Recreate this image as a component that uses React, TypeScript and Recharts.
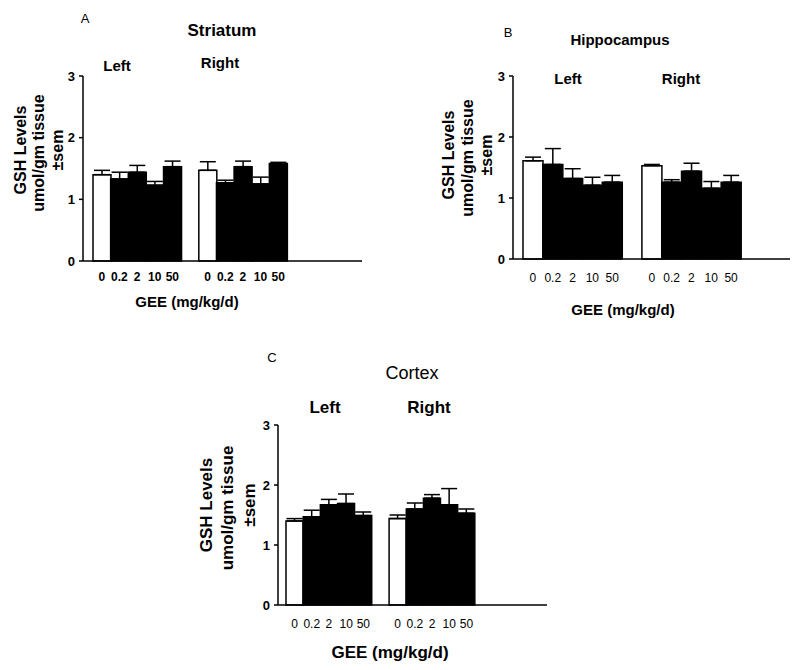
import React from 'react';
import { BarChart, Bar, XAxis, YAxis, Cell, ErrorBar } from 'recharts';

const FONT = '"Liberation Sans", Arial, sans-serif';

// GEE doses (mg/kg/d), same for each hemisphere
const doses = ['0', '0.2', '2', '10', '50'];

// GSH levels (umol/gm tissue) and sem
const striatumLeft = [1.40, 1.33, 1.44, 1.23, 1.53];
const striatumLeftSem = [0.07, 0.11, 0.11, 0.06, 0.09];
const striatumRight = [1.47, 1.27, 1.53, 1.25, 1.58];
const striatumRightSem = [0.14, 0.04, 0.09, 0.11, 0.02];

const hippoLeft = [1.61, 1.55, 1.32, 1.21, 1.26];
const hippoLeftSem = [0.06, 0.26, 0.16, 0.13, 0.11];
const hippoRight = [1.53, 1.26, 1.44, 1.16, 1.26];
const hippoRightSem = [0.02, 0.04, 0.13, 0.11, 0.11];

const cortexLeft = [1.40, 1.47, 1.67, 1.69, 1.49];
const cortexLeftSem = [0.04, 0.11, 0.09, 0.16, 0.06];
const cortexRight = [1.44, 1.60, 1.78, 1.67, 1.53];
const cortexRightSem = [0.06, 0.10, 0.06, 0.27, 0.07];

const yTicks = [0, 1, 2, 3];

type Row = { key: string; dose: string; value: number | null; err?: number[] };

// left group, an empty slot, then right group
const buildRows = (left: number[], leftSem: number[], right: number[], rightSem: number[]): Row[] => [
  ...doses.map((d, i) => ({ key: `L|${d}`, dose: d, value: left[i], err: [0, leftSem[i]] })),
  { key: 'gap|', dose: '', value: null },
  ...doses.map((d, i) => ({ key: `R|${d}`, dose: d, value: right[i], err: [0, rightSem[i]] })),
];

interface PanelProps {
  left: number;
  top: number;
  width: number;
  height: number;
  margin: { top: number; right: number; bottom: number; left: number };
  yAxisWidth: number;
  padding: { left: number; right: number };
  tickMargin: number;
  tickBold: boolean;
  data: Row[];
}

const Panel = ({ left, top, width, height, margin, yAxisWidth, padding, tickMargin, tickBold, data }: PanelProps) => (
  <div style={{ position: 'absolute', left, top, width, height }}>
    <BarChart width={width} height={height} data={data} margin={margin} barCategoryGap={0} barGap={0}>
      <XAxis
        dataKey="key"
        interval={0}
        tickLine={false}
        height={30}
        padding={padding}
        tickMargin={tickMargin}
        axisLine={{ stroke: '#000', strokeWidth: 1.5 }}
        tick={{ fill: '#000', fontSize: 12, fontWeight: tickBold ? 'bold' : 'normal' }}
        tickFormatter={(k: string) => k.split('|')[1]}
      />
      <YAxis
        domain={[0, 3]}
        ticks={yTicks}
        width={yAxisWidth}
        tickSize={4}
        tickMargin={4}
        axisLine={{ stroke: '#000', strokeWidth: 1.5 }}
        tickLine={{ stroke: '#000', strokeWidth: 1.5 }}
        tick={{ fill: '#000', fontSize: 13, fontWeight: 'bold' }}
      />
      <Bar dataKey="value" stroke="#000" strokeWidth={1.5} isAnimationActive={false}>
        {data.map((d) => (
          <Cell key={d.key} fill={d.dose === '0' ? '#fff' : '#000'} />
        ))}
        <ErrorBar dataKey="err" direction="y" width={8} stroke="#000" strokeWidth={1.5} isAnimationActive={false} />
      </Bar>
    </BarChart>
  </div>
);

const YLabel = ({ x, y, size, gap }: { x: number; y: number; size: number; gap: number }) => (
  <g fontWeight="bold" fontSize={size} textAnchor="middle">
    <text transform={`translate(${x},${y}) rotate(-90)`} dominantBaseline="central">GSH Levels</text>
    <text transform={`translate(${x + gap},${y + 3}) rotate(-90)`} dominantBaseline="central">umol/gm tissue</text>
    <text transform={`translate(${x + 2 * gap},${y}) rotate(-90)`} dominantBaseline="central">±sem</text>
  </g>
);

const App = () => {
  const striatum = buildRows(striatumLeft, striatumLeftSem, striatumRight, striatumRightSem);
  const hippo = buildRows(hippoLeft, hippoLeftSem, hippoRight, hippoRightSem);
  const cortex = buildRows(cortexLeft, cortexLeftSem, cortexRight, cortexRightSem);

  return (
    <div style={{ position: 'absolute', left: 0, top: 0, width: 800, height: 670, background: '#fff', fontFamily: FONT }}>
      {/* A: Striatum */}
      <Panel
        left={0} top={0} width={400} height={320}
        margin={{ top: 76, right: 38, bottom: 29, left: 0 }}
        yAxisWidth={83} padding={{ left: 10, right: 75 }}
        tickMargin={5} tickBold data={striatum}
      />
      {/* B: Hippocampus */}
      <Panel
        left={400} top={0} width={400} height={320}
        margin={{ top: 76, right: 10, bottom: 31, left: 0 }}
        yAxisWidth={113} padding={{ left: 10, right: 49 }}
        tickMargin={8} tickBold={false} data={hippo}
      />
      {/* C: Cortex */}
      <Panel
        left={0} top={340} width={600} height={330}
        margin={{ top: 85, right: 53, bottom: 35, left: 0 }}
        yAxisWidth={278} padding={{ left: 8, right: 72 }}
        tickMargin={8} tickBold={false} data={cortex}
      />

      <svg width={800} height={670} style={{ position: 'absolute', left: 0, top: 0, pointerEvents: 'none' }} fontFamily={FONT}>
        <g fill="#000" textAnchor="middle" dominantBaseline="central">
          <text x={85} y={18} fontSize={13}>A</text>
          <text x={222} y={30} fontSize={17} fontWeight="bold">Striatum</text>
          <text x={117} y={65} fontSize={15} fontWeight="bold">Left</text>
          <text x={220} y={62} fontSize={15} fontWeight="bold">Right</text>
          <text x={187} y={301} fontSize={15} fontWeight="bold">GEE (mg/kg/d)</text>

          <text x={508} y={32} fontSize={13}>B</text>
          <text x={620} y={39} fontSize={15} fontWeight="bold">Hippocampus</text>
          <text x={568} y={78} fontSize={15} fontWeight="bold">Left</text>
          <text x={681} y={78} fontSize={15} fontWeight="bold">Right</text>
          <text x={623} y={309} fontSize={15} fontWeight="bold">GEE (mg/kg/d)</text>

          <text x={272} y={357} fontSize={13}>C</text>
          <text x={412} y={373} fontSize={18}>Cortex</text>
          <text x={325} y={407} fontSize={17} fontWeight="bold">Left</text>
          <text x={429} y={407} fontSize={17} fontWeight="bold">Right</text>
          <text x={390} y={652} fontSize={17} fontWeight="bold">GEE (mg/kg/d)</text>
        </g>
        <YLabel x={20} y={150} size={16} gap={18.5} />
        <YLabel x={448} y={155} size={16} gap={19} />
        <YLabel x={206} y={505} size={17} gap={21.5} />
      </svg>
    </div>
  );
};

export default App;
